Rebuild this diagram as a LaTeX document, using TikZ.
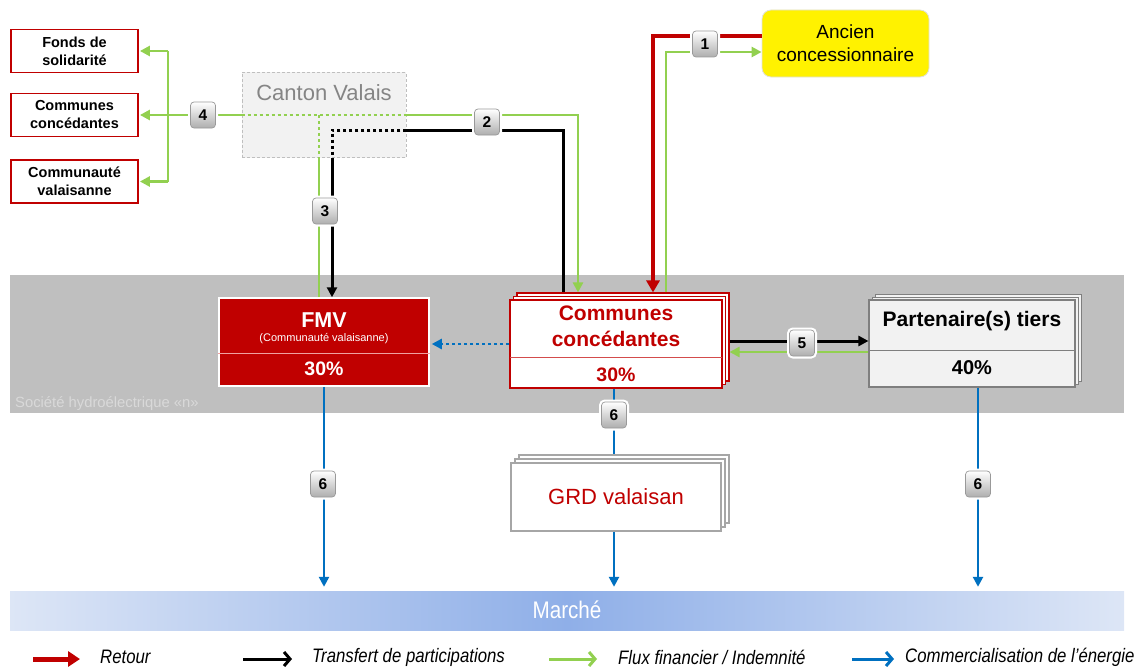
\documentclass[tikz,border=0pt]{standalone}
\usepackage{fontspec}
\setmainfont{Liberation Sans}
\newfontfamily\narrowf{Liberation Sans}[FakeStretch=0.86]
\usetikzlibrary{arrows.meta,calc}
\newcommand\fsz[2]{\fontsize{#1}{#2}\selectfont}
\definecolor{dred}{HTML}{C00000}
\definecolor{lgreen}{HTML}{92D050}
\definecolor{eblue}{HTML}{0070C0}
\definecolor{bandgray}{HTML}{BFBFBF}
\definecolor{paleface}{HTML}{F2F2F2}
\definecolor{midgray}{HTML}{7F7F7F}
\definecolor{marcheblue}{HTML}{8FAFE8}
\definecolor{marchelight}{HTML}{DDE6F6}
\definecolor{pinkline}{HTML}{F0A0A0}

\begin{document}
\begin{tikzpicture}[x=1pt,y=-1pt,
  tip/.style={-{Triangle[length=10pt,width=10pt]}},
  retour/.style={draw=dred,line width=4.5pt},
  transfert/.style={draw=black,line width=3pt},
  flux/.style={draw=lgreen,line width=2.7pt},
  energie/.style={draw=eblue,line width=2.4pt},
  dotline/.style={dash pattern=on 3pt off 3pt},
  leftbox/.style={draw=dred,line width=1.8pt,fill=white,minimum width=127pt,
    minimum height=43pt,inner sep=0pt,align=center,font=\bfseries\fsz{14.5}{18}},
  ccback/.style={draw=dred,line width=1.1pt,fill=white,minimum width=212pt,
    minimum height=88pt,inner sep=0pt},
  ccfront/.style={ccback,line width=2pt},
  ptbox/.style={draw=midgray,line width=1.1pt,fill=paleface,minimum width=206pt,
    minimum height=87pt,inner sep=0pt},
  grdbox/.style={draw=black!35,line width=1.1pt,fill=white,minimum width=210pt,
    minimum height=68pt,inner sep=0pt},
  badge/.style={rounded corners=3.5pt,minimum width=25pt,minimum height=26pt,
    inner sep=0pt,top color=white,bottom color=black!32,draw=black!40,
    line width=0.7pt,font=\bfseries\fsz{15.5}{15.5},
    preaction={draw=white,line width=5pt}},
  legendtxt/.style={anchor=west,inner sep=0pt,font=\narrowf\itshape\fsz{19.5}{20}}
]
\useasboundingbox (0,0) rectangle (1140,669);

% the company band
\node[fill=bandgray,minimum width=1114pt,minimum height=138pt,inner sep=0pt] (band) at (567,344) {};
\node[anchor=west,inner sep=0pt,text=white!85!black,font=\fsz{14.8}{15}] (bandlbl) at (15,404) {Société hydroélectrique «n»};

% FMV
\node[fill=dred,draw=white,line width=1.5pt,minimum width=210pt,minimum height=88pt,inner sep=0pt] (fmv) at (324,342) {};
\draw[pinkline,line width=0.8pt] (fmv.west |- 0,353) -- (fmv.east |- 0,353);
\node[text=white,font=\bfseries\fsz{21.5}{22}] (fmvname) at (324,320) {FMV};
\node[text=white,font=\fsz{11}{12}] (fmvsub) at (324,339) {(Communauté valaisanne)};
\node[text=white,font=\bfseries\fsz{19.5}{20}] (fmvpct) at (324,369) {30\%};

% Communes concedantes (stack)
\node[ccback] (cc2) at (623,337) {};
\node[ccback] (cc1) at (619.5,340.5) {};
\node[ccfront] (cc) at (616,344) {};
\draw[dred!70!white,line width=0.8pt] ([xshift=1pt]cc.west |- 0,357) -- ([xshift=-1pt]cc.east |- 0,357);
\node[text=dred,font=\bfseries\fsz{21}{22}] (ccname1) at (616,313) {Communes};
\node[text=dred,font=\bfseries\fsz{21}{22}] (ccname2) at (616,339) {concédantes};
\node[text=dred,font=\bfseries\fsz{19.5}{20}] (ccpct) at (616,375) {30\%};

% Partenaire(s) tiers (stack)
\node[ptbox,line width=0.8pt] (pt2) at (978,337.5) {};
\node[ptbox,line width=0.8pt] (pt1) at (975,340.5) {};
\node[ptbox] (pt) at (972,343.5) {};
\draw[midgray,line width=0.8pt] (pt.west |- 0,350) -- (pt.east |- 0,350);
\node[font=\bfseries\fsz{21}{22}] (ptname) at (972,321) {Partenaire(s) tiers};
\node[font=\bfseries\fsz{20}{20}] (ptpct) at (972,368) {40\%};

% GRD valaisan (stack)
\node[grdbox] (grd2) at (624,489) {};
\node[grdbox] (grd1) at (620,493) {};
\node[grdbox] (grd) at (616,497) {};
\node[text=dred,font=\fsz{22}{22}] (grdname) at (616,497) {GRD valaisan};

% market bar
\node[left color=marchelight,right color=marchelight,middle color=marcheblue,
  minimum width=1114pt,minimum height=39pt,inner sep=0pt] (marche) at (567,610.5) {};
\node[text=white,font=\narrowf\fsz{24}{24}] (marchetxt) at (567,610) {Marché};

% recipients on the left
\node[leftbox] (fonds) at (74.5,51) {Fonds de\\solidarité};
\node[leftbox] (comL) at (74.5,115) {Communes\\concédantes};
\node[leftbox] (commu) at (74.5,181.5) {Communauté\\valaisanne};

% Canton
\node[draw=bandgray,dash pattern=on 3pt off 2pt,line width=0.8pt,fill=paleface,
  minimum width=164pt,minimum height=85pt,inner sep=0pt] (canton) at (324,115) {};
\node[text=black!48,font=\fsz{22}{22}] (cantontxt) at (324,93) {Canton Valais};

% former concession holder
\node[rounded corners=9pt,fill=yellow,draw=black!12,line width=0.8pt,
  minimum width=167pt,minimum height=67pt,inner sep=0pt,align=center,
  font=\fsz{19}{23}] (ancien) at (845.5,43.5) {Ancien\\concessionnaire};

% ---- flows ----
% 1: return and compensation
\draw[retour,-{Triangle[length=12pt,width=13pt]}] ([yshift=7.5pt]ancien.west) -| ([xshift=30pt]cc2.north);
\draw[flux,tip] ([xshift=43pt]cc2.north) |- ([yshift=-8.5pt]ancien.west);

% 2 and 4: financial flows from the canton
\coordinate (brk) at (168,115);
\draw[flux] (canton.west) -- (brk);
\draw[flux,tip,shorten >=1pt] (brk |- fonds.east) -- (fonds.east);
\draw[flux] (brk |- fonds.east) -- (brk |- commu.east);
\draw[flux,tip,shorten >=1pt] (brk) -- (brk -| comL.east);
\draw[flux,tip,shorten >=1pt] (brk |- commu.east) -- (commu.east);
\draw[flux,dotline] (canton.west) -- (canton.east);
\draw[flux,tip] (canton.east) -| ([xshift=-45pt]cc2.north);

% 3: green link down to FMV
\coordinate (g3) at ([xshift=-5pt]canton.center);
\draw[flux,dotline] (g3) -- (g3 |- canton.south);
\draw[flux] (g3 |- canton.south) -- (g3 |- fmv.north);

% 2 and 3: transfer of participations
\coordinate (k0) at ([xshift=8pt,yshift=-15pt]canton.center);
\draw[transfert,dotline] (k0 -| canton.east) -- (k0) -- (k0 |- canton.south);
\draw[transfert] (k0 -| canton.east) -| ([xshift=-60pt]cc2.north);
\draw[transfert,tip] (k0 |- canton.south) -- (k0 |- fmv.north);

% energy from communes to FMV
\draw[energie,dotline,tip,shorten >=2pt] (cc.west) -- (cc.west -| fmv.east);

% 5: third-party partners
\coordinate (p5k) at ([yshift=2.5pt]pt.west);
\coordinate (p5g) at ([yshift=-8.5pt]pt.west);
\draw[transfert,tip] (p5k -| cc2.east) -- (p5k);
\draw[flux,tip] (p5g) -- (p5g -| cc2.east);

% 6: energy sold on the market
\draw[energie,tip,shorten >=4pt] (fmv.south) -- (fmv.south |- marche.north);
\draw[energie] ([xshift=-2pt]cc.south) -- ([xshift=-2pt]cc.south |- grd2.north);
\draw[energie,tip,shorten >=4pt] ([xshift=-2pt]grd.south) -- ([xshift=-2pt]grd.south |- marche.north);
\draw[energie,tip,shorten >=4pt] ([xshift=6pt]pt.south) -- ([xshift=6pt]pt.south |- marche.north);

% step badges
\node[badge] (b1) at (705,44) {1};
\node[badge] (b2) at (487,122) {2};
\node[badge] (b3) at (325,211) {3};
\node[badge] (b4) at (203,115) {4};
\node[badge] (b5) at (802,343) {5};
\node[badge] (b6a) at (323,484) {6};
\node[badge] (b6b) at (614,415) {6};
\node[badge] (b6c) at (978,484) {6};

% legend
\coordinate (lr0) at (33,659);  \coordinate (lr1) at (80,659);
\coordinate (lk0) at (243,659); \coordinate (lk1) at (292,659);
\coordinate (lg0) at (549,659); \coordinate (lg1) at (597,659);
\coordinate (lb0) at (852,659); \coordinate (lb1) at (894,659);
\draw[retour,line width=5pt,-{Triangle[length=12pt,width=15pt]}] (lr0) -- (lr1);
\draw[transfert,-{Straight Barb[length=6pt,width=14pt]}] (lk0) -- (lk1);
\draw[flux,line width=3pt,-{Straight Barb[length=6pt,width=14pt]}] (lg0) -- (lg1);
\draw[energie,line width=3pt,-{Straight Barb[length=6pt,width=14pt]}] (lb0) -- (lb1);
\node[legendtxt] (lrt) at (100,657) {Retour};
\node[legendtxt] (lkt) at (312,657) {Transfert de participations};
\node[legendtxt] (lgt) at (618,657) {Flux financier / Indemnité};
\node[legendtxt] (lbt) at (905,657) {Commercialisation de l’énergie};
\end{tikzpicture}
\end{document}
